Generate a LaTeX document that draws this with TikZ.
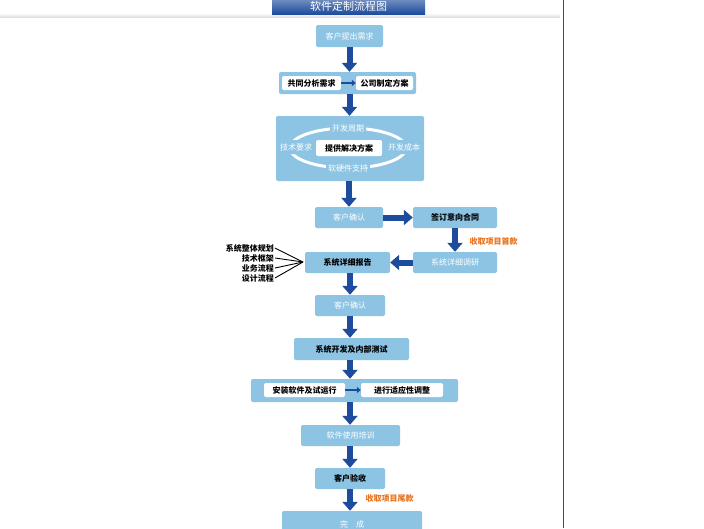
\documentclass[tikz,border=0pt]{standalone}
\usepackage{fontspec}
\setmainfont{Noto Sans CJK SC}
\usetikzlibrary{arrows.meta}
\definecolor{lb}{HTML}{8DC4E4}
\definecolor{db}{HTML}{1E4C9C}
\definecolor{og}{HTML}{E8731E}
\begin{document}
\begin{tikzpicture}[x=1pt,y=-1pt,
 box/.style={fill=lb,rounded corners=2pt,inner sep=0pt,font=\fontsize{8}{9}\selectfont,text=white},
 bk/.style={text=black,font=\fontsize{8}{9}\selectfont\bfseries},
 wb/.style={fill=white,rounded corners=2pt,inner sep=0pt,text=black,font=\fontsize{8}{9}\selectfont\bfseries},
 fat/.style={draw=db,line width=6pt,-{Triangle[width=15pt,length=9pt]}},
 thin/.style={draw=db,line width=2.5pt,-{Triangle[width=6pt,length=4pt]}},
 org/.style={text=og,font=\fontsize{8}{9}\selectfont\bfseries}]
\useasboundingbox (0,0) rectangle (704,528);
\fill[white] (0,0) rectangle (704,528);
\shade[top color=white,bottom color=black!12] (0,13) rectangle (560,17);
\draw[black!70,line width=0.8pt] (563,0) -- (563,528);
\node[top color=db!60,bottom color=db,minimum width=153pt,minimum height=16pt,inner sep=0pt,text=white,font=\fontsize{11}{11}\selectfont] (title) at (348.5,6) {软件定制流程图};
% boxes
\node[box,minimum width=67pt,minimum height=22pt] (b1) at (349.5,36) {客户提出需求};
\node[box,minimum width=137pt,minimum height=22pt] (b2) at (347.5,83) {};
\node[wb,minimum width=59pt,minimum height=14pt] (b2a) at (311.5,83) {共同分析需求};
\node[wb,minimum width=57pt,minimum height=14pt] (b2b) at (384.5,83) {公司制定方案};
\node[box,minimum width=148pt,minimum height=65pt] (b3) at (350,148.5) {};
\draw[white,line width=3pt] (348,148) ellipse (58pt and 20pt);
\node[box,fill=lb,inner sep=2pt] (t1) at (348,128) {开发周期};
\node[box,fill=lb,inner sep=2pt] (t2) at (348,168) {软硬件支持};
\node[box,fill=lb,inner sep=1pt,minimum height=14pt] (t3) at (296,147) {技术要求};
\node[box,fill=lb,inner sep=1pt,minimum height=14pt] (t4) at (404,147) {开发成本};
\node[wb,minimum width=66pt,minimum height=16pt] (t5) at (349,148) {提供解决方案};
\node[box,minimum width=68pt,minimum height=21pt] (b4) at (349,217.5) {客户确认};
\node[box,bk,minimum width=84pt,minimum height=21pt] (b5) at (455,217.5) {签订意向合同};
\node[box,minimum width=84pt,minimum height=21pt] (b6) at (455,262.5) {系统详细调研};
\node[box,bk,minimum width=85pt,minimum height=21pt] (b7) at (347.5,262.5) {系统详细报告};
\node[box,minimum width=70pt,minimum height=21pt] (b8) at (350,305.5) {客户确认};
\node[box,bk,minimum width=115pt,minimum height=22pt] (b9) at (351.5,349) {系统开发及内部测试};
\node[box,minimum width=207pt,minimum height=23pt] (b10) at (354.5,390.5) {};
\node[wb,minimum width=81pt,minimum height=14pt] (b10a) at (304.5,390) {安装软件及试运行};
\node[wb,minimum width=82pt,minimum height=14pt] (b10b) at (402,390) {进行适应性调整};
\node[box,minimum width=99pt,minimum height=21pt] (b11) at (350.5,435.5) {软件使用培训};
\node[box,bk,minimum width=70pt,minimum height=21pt] (b12) at (350,478.5) {客户验收};
\node[box,minimum width=140pt,minimum height=26pt] (b13) at (352,524) {完\quad 成};
\node[org,anchor=west] (o1) at (466,241) {收取项目首款};
\node[org,anchor=west] (o2) at (362,498) {收取项目尾款};
\node[bk,anchor=east,inner sep=1pt] (l1) at (275,248) {系统整体规划};
\node[bk,anchor=east,inner sep=1pt] (l2) at (275,258) {技术框架};
\node[bk,anchor=east,inner sep=1pt] (l3) at (275,268) {业务流程};
\node[bk,anchor=east,inner sep=1pt] (l4) at (275,278) {设计流程};
\coordinate (c) at (303,262);
\foreach \l in {l1,l2,l3,l4} \draw[black,line width=0.9pt] (\l.east) -- (c);
% arrows
\draw[fat] (b1.south) -- (b1.south|-b2.north);
\draw[thin] (b2a.east) -- (b2b.west);
\draw[fat] (b1.south|-b2.south) -- (b1.south|-b3.north);
\draw[fat] (b4.north|-b3.south) -- (b4.north);
\draw[fat] (b4.east) -- (b5.west);
\draw[fat] (b5.south) -- (b6.north);
\draw[fat] (b6.west) -- (b7.east);
\draw[fat] (b8.north|-b7.south) -- (b8.north);
\draw[fat] (b8.south) -- (b9.north-|b8.south);
\draw[fat] (b9.south-|b8.south) -- (b10.north-|b8.south);
\draw[thin] (b10a.east) -- (b10b.west);
\draw[fat] (b10.south-|b8.south) -- (b11.north-|b8.south);
\draw[fat] (b11.south-|b8.south) -- (b12.north-|b8.south);
\draw[fat] (b12.south) -- (b13.north-|b12.south);
\end{tikzpicture}
\end{document}
